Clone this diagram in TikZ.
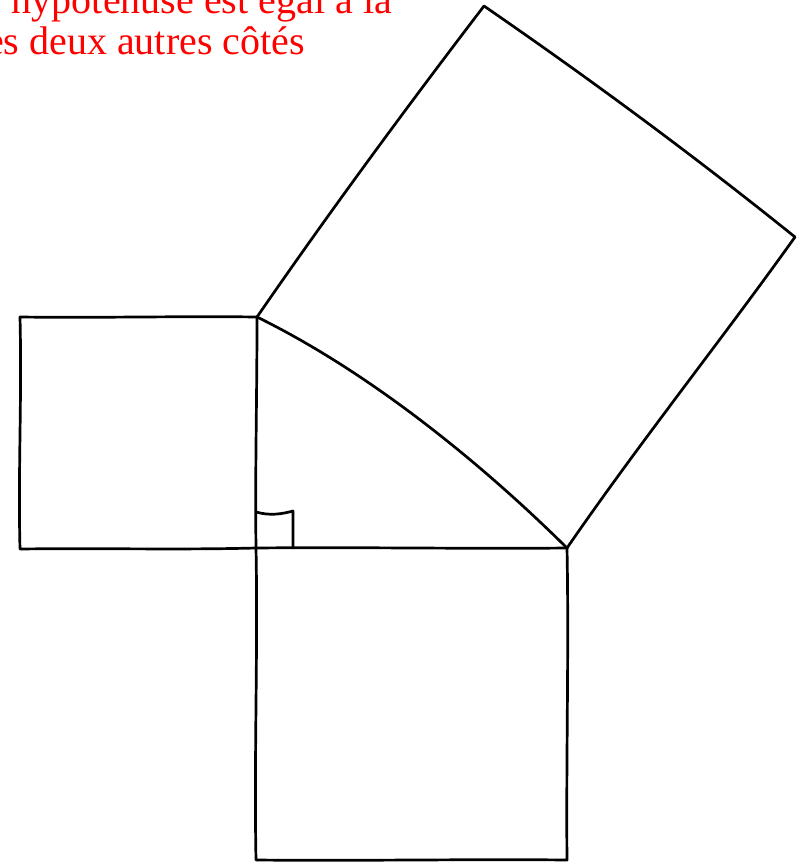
\documentclass[tikz,border=0pt]{standalone}
\usepackage{fontspec}
\setmainfont{Liberation Serif}
\begin{document}
\begin{tikzpicture}[x=1pt,y=-1pt,
  edge/.style={line width=2.7pt,line cap=round,line join=round,black},
  caption/.style={text=red,font=\fontsize{40}{41}\selectfont,inner sep=0pt,anchor=base east}]
\useasboundingbox (0,0) rectangle (796,862);
% vertices
\coordinate (A) at (257,317);
\coordinate (C) at (256,548);
\coordinate (B) at (567,548);
\coordinate (L1) at (20,317);
\coordinate (L2) at (20,549);
\coordinate (D1) at (256,860);
\coordinate (D2) at (567,860);
\coordinate (H1) at (484,6);
\coordinate (H2) at (795,237);
\coordinate (M1) at (256,512);
\coordinate (M2) at (293,511);
\coordinate (M3) at (293,548);
% triangle
\draw[edge] (A) .. controls (257,400) and (255,470) .. (C);
\draw[edge] (C) .. controls (360,547) and (470,549) .. (B);
\draw[edge] (A) .. controls (365,370) and (475,457) .. (B);
% left square
\draw[edge] (A) .. controls (180,316) and (100,318) .. (L1)
  .. controls (22,400) and (18,470) .. (L2)
  .. controls (100,548) and (180,550) .. (C);
% bottom square
\draw[edge] (C) .. controls (258,650) and (254,760) .. (D1)
  .. controls (360,861) and (470,859) .. (D2)
  .. controls (566,760) and (569,650) .. (B);
% hypotenuse square
\draw[edge] (A) .. controls (328,214) and (406,108) .. (H1)
  .. controls (590,79) and (693,155) .. (H2)
  .. controls (720,342) and (640,442) .. (B);
% right angle mark
\draw[edge] (M1) .. controls (270,516) and (282,514) .. (M2) -- (M3);
% caption
\node[caption] (t1) at (392,13) {Le carré de l'hypoténuse est égal à la};
\node[caption] (t2) at (305,54) {somme des carrés des deux autres côtés};
\end{tikzpicture}
\end{document}
